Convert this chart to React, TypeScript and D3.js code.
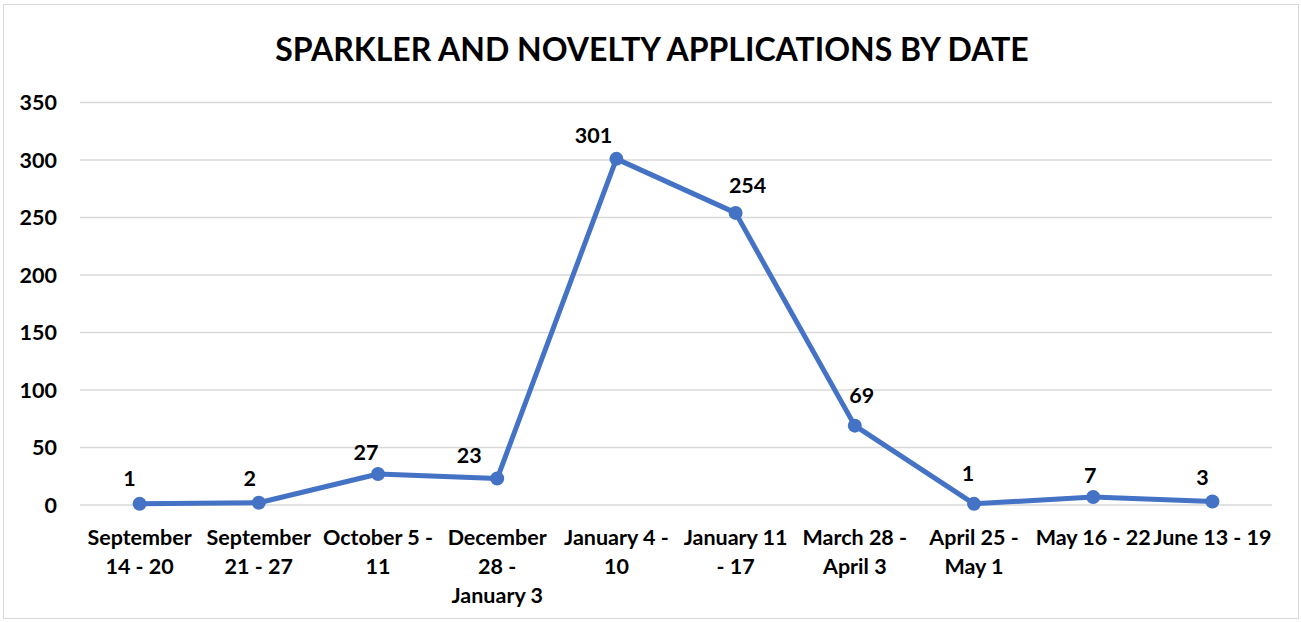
import React from "react";
import * as d3 from "d3";

const categories: string[] = [
  "September\n14 - 20",
  "September\n21 - 27",
  "October 5 -\n11",
  "December\n28 -\nJanuary 3",
  "January 4 -\n10",
  "January 11\n- 17",
  "March 28 -\nApril 3",
  "April 25 -\nMay 1",
  "May 16 - 22",
  "June 13 - 19",
];
const values: number[] = [1, 2, 27, 23, 301, 254, 69, 1, 7, 3];
const yTicks: number[] = [0, 50, 100, 150, 200, 250, 300, 350];
const title = "SPARKLER AND NOVELTY APPLICATIONS BY DATE";

// data label placement offsets (layout only)
const labelDx: number[] = [-10, -9, -12, -28, -23, 12, 7, -6, -3, -10];
const labelDy: number[] = [-25, -24, -21, -23, -23, -27, -30, -30, -21, -24];

const W = 1301;
const H = 622;
const FONT = "Lato, 'Open Sans', sans-serif";
const BLUE = "#4472C4";

export default function App() {
  const x = d3.scaleBand<string>().domain(categories).range([80, 1272]);
  const y = d3.scaleLinear().domain([0, 350]).range([505, 102.5]);
  const cx = (c: string) => (x(c) as number) + x.bandwidth() / 2;
  const line = d3
    .line<number>()
    .x((_, i) => cx(categories[i]))
    .y((d) => y(d));

  return (
    <svg
      width={W}
      height={H}
      style={{ position: "absolute", left: 0, top: 0, display: "block" }}
    >
      <rect x={0} y={0} width={W} height={H} fill="#fff" />
      <rect x={3.5} y={4.5} width={W - 6} height={H - 8} fill="none" stroke="#d9d9d9" strokeWidth={1} />
      <text
        x={652}
        y={61}
        textAnchor="middle"
        fontFamily={FONT}
        fontWeight={700}
        fontSize={32}
        fill="#000"
      >
        {title}
      </text>
      {yTicks.map((t) => (
        <g key={t}>
          <line x1={80} x2={1272} y1={y(t)} y2={y(t)} stroke="#d9d9d9" strokeWidth={1.3} />
          <text
            x={57}
            y={y(t)}
            dy="0.35em"
            textAnchor="end"
            fontFamily={FONT}
            fontWeight={700}
            fontSize={21.5}
            fill="#000"
          >
            {t}
          </text>
        </g>
      ))}
      {categories.map((c) => (
        <text
          key={c}
          x={cx(c)}
          y={537}
          textAnchor="middle"
          fontFamily={FONT}
          fontWeight={700}
          fontSize={21.5}
          fill="#000"
        >
          {c.split("\n").map((ln, i) => (
            <tspan key={i} x={cx(c)} dy={i === 0 ? "0.35em" : 29}>
              {ln}
            </tspan>
          ))}
        </text>
      ))}
      <path
        d={line(values) || ""}
        fill="none"
        stroke={BLUE}
        strokeWidth={5}
        strokeLinejoin="round"
        strokeLinecap="round"
      />
      {values.map((v, i) => (
        <g key={i}>
          <circle cx={cx(categories[i])} cy={y(v)} r={7} fill={BLUE} />
          <text
            x={cx(categories[i]) + labelDx[i]}
            y={y(v) + labelDy[i]}
            dy="0.35em"
            textAnchor="middle"
            fontFamily={FONT}
            fontWeight={700}
            fontSize={21.5}
            fill="#000"
          >
            {v}
          </text>
        </g>
      ))}
    </svg>
  );
}
